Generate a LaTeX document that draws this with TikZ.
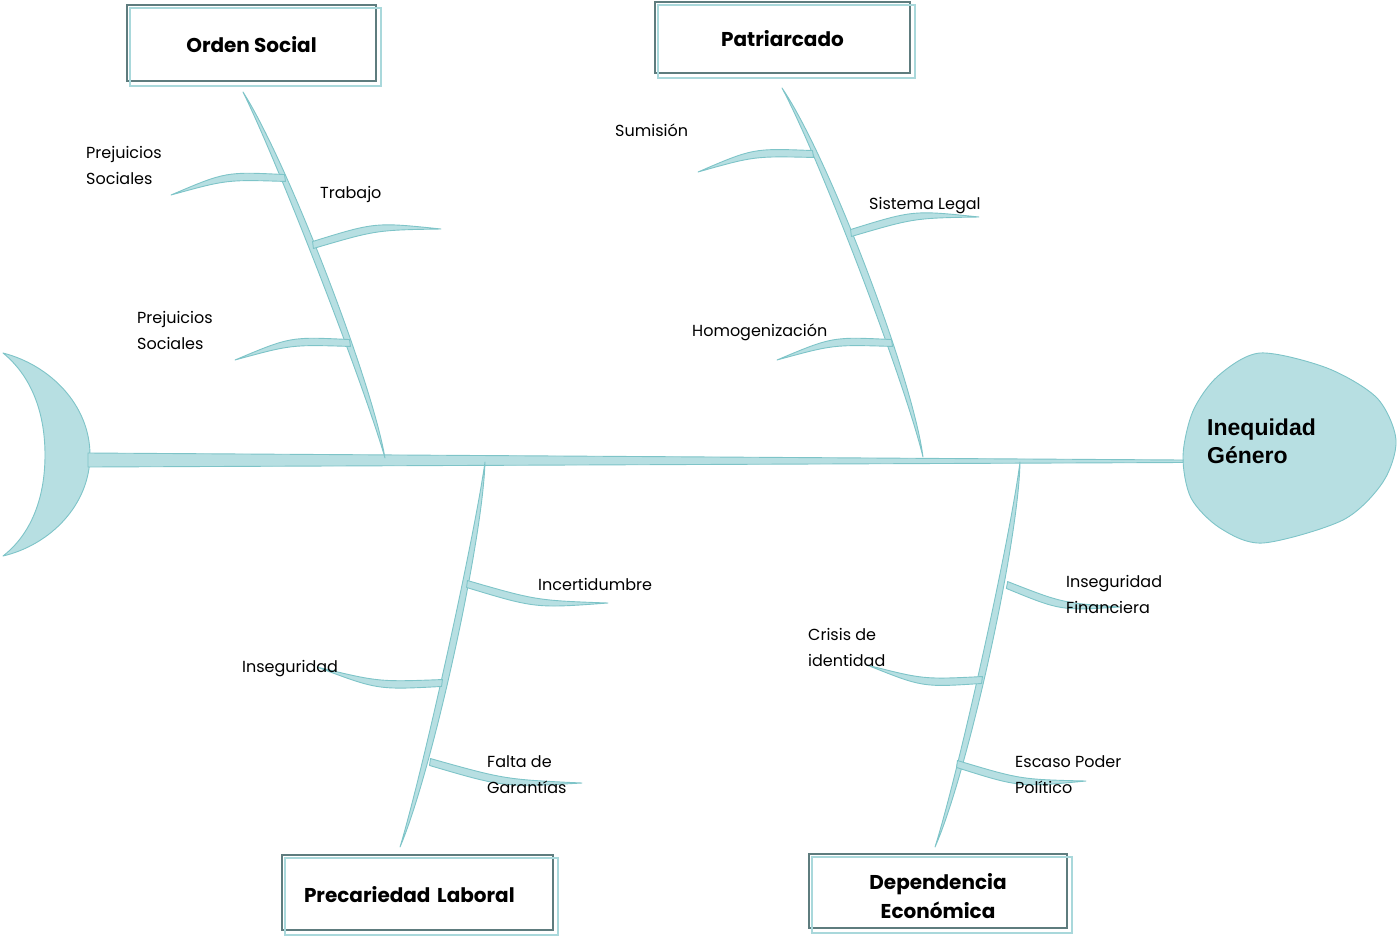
\documentclass[tikz,border=0pt]{standalone}
\usepackage{fontspec}
\setmainfont{Poppins}
\newfontfamily\headfont{Liberation Sans}
\usetikzlibrary{calc}
\definecolor{bonefill}{HTML}{B7DFE2}
\definecolor{boneline}{HTML}{7EC4C8}
\definecolor{frameline}{HTML}{5E7C7E}
\definecolor{frameshade}{HTML}{A9D8DB}

\begin{document}
\begin{tikzpicture}[x=1pt,y=-1pt,
    bone/.style={fill=bonefill,draw=boneline,line width=0.9pt,line join=round},
    note/.style={anchor=base west,inner sep=0pt,align=left,font=\fontsize{16}{26}\selectfont},
    cause/.style={draw=frameline,line width=1.6pt,inner sep=0pt,align=center,font=\fontsize{20}{29}\selectfont\bfseries},
    shade/.style={draw=frameshade,line width=2.2pt}]
    \useasboundingbox (0,0) rectangle (1397,935);

    % tail and head
    \path[bone] (3,353) .. controls (50,365) and (90,405) .. (90,455)
        .. controls (90,505) and (50,545) .. (3,556)
        .. controls (30,535) and (45,500) .. (45,455)
        .. controls (45,410) and (30,375) .. (3,353) -- cycle;
    \path[bone] plot[smooth cycle] coordinates {(1260,353) (1327,368) (1377,398) (1396,440) (1383,482) (1343,520) (1263,543) (1220,528) (1191,498) (1183,456) (1193,411) (1218,376)};
    \node[anchor=base west,inner sep=0pt,align=left,font=\headfont\fontsize{23}{28.5}\selectfont\bfseries] (head) at (1207,463.5) {Inequidad\\Género};

    % spine
    \coordinate (tail) at (88,460);
    \coordinate (mouth) at (1183,461);
    \path[bone] ($(tail)+(0,-7)$) -- ($(mouth)+(0,-1)$) -- ($(mouth)+(0,1.5)$) -- ($(tail)+(0,7)$) -- cycle;

    % main bones
    \foreach \n/\x/\y/\u/\v/\o [evaluate=\o as \ou using \o+5, evaluate=\o as \od using \o-4] in
        {os/243/92/385/458/11, pa/782/88/923/457/14, pl/485/462/400/847/10, de/1020/462/935/847/11}
    {
        \coordinate (\n) at (\x,\y);
        \coordinate (\n end) at (\u,\v);
        \path[bone] (\n) .. controls ($(\n)!0.2!(\n end)!\ou pt!90:(\n end)$) and ($(\n)!0.8!(\n end)!\ou pt!-90:(\n)$) .. (\n end)
            .. controls ($(\n)!0.8!(\n end)!\od pt!-90:(\n)$) and ($(\n)!0.2!(\n end)!\od pt!90:(\n end)$) .. (\n) -- cycle;
    }

    % small bones
    \foreach \n/\x/\y/\u/\v/\r [evaluate=\r as \s using \r+180] in
        {ps1/285/178/171/195/270, tr/313/245/441/229/90, ps2/350/343/235/360/270,
         su/813/154/698/172/270, sl/851/233/979/217/90, ho/892/343/777/360/270,
         in/467/584/608/603/270, is/442/683/317/667/90, fg/430/762/582/783/270,
         if/1007/585/1120/607/270, ci/982/680/867/665/90, ep/957/764/1086/781/270}
    {
        \coordinate (\n) at (\x,\y);
        \coordinate (\n tip) at (\u,\v);
        \path[bone] ($(\n)!3.5pt!\r:(\n tip)$) .. controls ($(\n)!0.5!(\n tip)!15pt!\r:(\n tip)$) .. (\n tip)
            .. controls ($(\n)!0.5!(\n tip)!7pt!\r:(\n tip)$) .. ($(\n)!3.5pt!\s:(\n tip)$) -- cycle;
    }

    % causes
    \node[cause,minimum width=249,minimum height=76] (orden) at (251.5,43) {\rule{0pt}{19pt}Orden Social};
    \node[cause,minimum width=255,minimum height=71] (patri) at (782.5,37.5) {\rule{0pt}{19pt}Patriarcado};
    \node[cause,minimum width=271,minimum height=75,text width=227,align=left] (preca) at (417.5,892.5) {\rule{0pt}{21pt}Precariedad Laboral};
    \node[cause,minimum width=258,minimum height=74] (depen) at (938,891) {\rule{0pt}{27pt}Dependencia\\Económica};
    \foreach \b in {orden,patri,preca,depen}
        \draw[shade] ([shift={(4,4)}]\b.north west) rectangle ([shift={(4,4)}]\b.south east);

    % labels
    \node[note] (ps1l) at (86,184) {Prejuicios\\Sociales};
    \node[note] (trl) at (320,198) {Trabajo};
    \node[note] (ps2l) at (137,349) {Prejuicios\\Sociales};
    \node[note] (sul) at (615,136) {Sumisión};
    \node[note] (sll) at (869,209) {Sistema Legal};
    \node[note] (hol) at (692,336) {Homogenización};
    \node[note] (inl) at (538,590) {Incertidumbre};
    \node[note] (isl) at (242,672) {Inseguridad};
    \node[note] (fgl) at (487,793) {Falta de\\Garantías};
    \node[note] (ifl) at (1066,613) {Inseguridad\\Financiera};
    \node[note] (cil) at (808,666) {Crisis de\\identidad};
    \node[note] (epl) at (1015,793) {Escaso Poder\\Político};
\end{tikzpicture}
\end{document}
